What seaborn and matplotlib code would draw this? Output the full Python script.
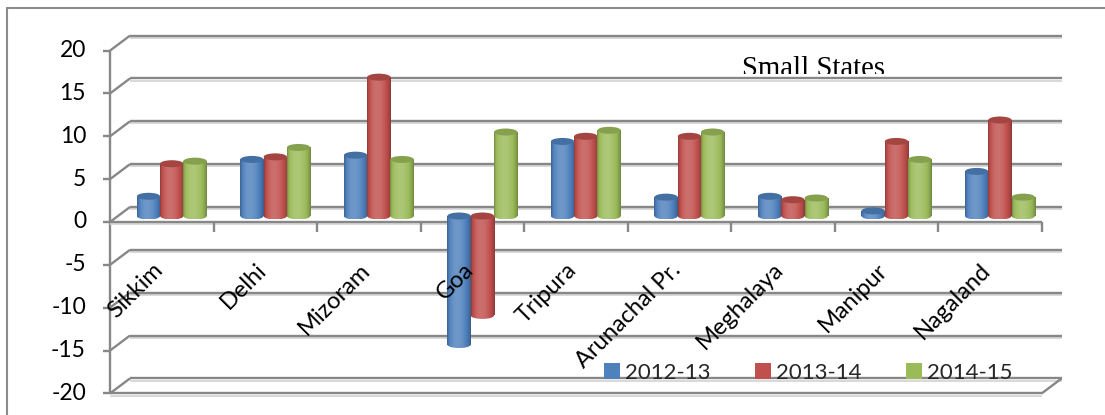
import numpy as np
import pandas as pd
import matplotlib
matplotlib.use("Agg")
import matplotlib.pyplot as plt
import seaborn as sns
from matplotlib.patches import Ellipse, Patch
from matplotlib.lines import Line2D
from matplotlib.transforms import offset_copy, Bbox
from matplotlib.colors import to_rgb

# ---- data -------------------------------------------------------------
states = ["Sikkim", "Delhi", "Mizoram", "Goa", "Tripura",
          "Arunachal Pr.", "Meghalaya", "Manipur", "Nagaland"]
years = ["2012-13", "2013-14", "2014-15"]
growth_2012_13 = [2.3, 6.6, 7.1, -15.0, 8.7, 2.2, 2.3, 0.6, 5.2]
growth_2013_14 = [6.1, 6.9, 16.2, -11.6, 9.3, 9.3, 1.9, 8.7, 11.2]
growth_2014_15 = [6.4, 8.0, 6.6, 9.8, 10.0, 9.8, 2.1, 6.6, 2.2]
y_ticks = [-20, -15, -10, -5, 0, 5, 10, 15, 20]
colors = ["#4F81BD", "#C0504D", "#9BBB59"]
title = "Small States"

df = pd.DataFrame({
    "state": states * len(years),
    "year": np.repeat(years, len(states)),
    "value": growth_2012_13 + growth_2013_14 + growth_2014_15,
})

# ---- figure -----------------------------------------------------------
sns.set_theme(style="white")
plt.rcParams["font.family"] = ["Lato", "DejaVu Sans"]

W, H, DPI = 1105, 415, 100
fig = plt.figure(figsize=(W / DPI, H / DPI), dpi=DPI)
fig.patch.set_facecolor("white")

# plane in which the cylinders stand (pixel box)
x_left, x_right = 120.0, 1051.7
y_top, y_bottom = 44.6, 387.4
ax = fig.add_axes([x_left / W, 1 - y_bottom / H,
                   (x_right - x_left) / W, (y_bottom - y_top) / H])

sns.barplot(data=df, x="state", y="value", hue="year", palette=colors,
            width=0.675, saturation=1, errorbar=None, legend=False, ax=ax)
n = len(states)
ax.set_xlim(-0.5, n - 0.5)
ax.set_ylim(y_ticks[0], y_ticks[-1])
ax.axis("off")

pxx = (x_right - x_left) / n                          # pixels per category
pxy = (y_bottom - y_top) / (y_ticks[-1] - y_ticks[0])  # pixels per unit

# front face of the 3-D box sits slightly lower-left, back wall upper-right
front = offset_copy(ax.transData, fig=fig, x=-10, y=-6, units="dots")
DX, DY = 20 / pxx, 15 / pxy   # depth of the box, in data units

GRID = "#878787"
SHADOW = "#d6d6d6"
LW = 1.7
TICK_FS = 16.5
CAT_FS = 17


def frame_line(xs, ys, z=0.5, color=GRID, lw=LW, shadow=True):
    if shadow:
        ax.plot(xs, [y - 2.2 / pxy for y in ys], transform=front,
                color=SHADOW, lw=1.3, clip_on=False, zorder=z - 0.01,
                solid_capstyle="butt")
    ax.plot(xs, ys, transform=front, color=color, lw=lw, clip_on=False,
            zorder=z, solid_capstyle="butt")


x0, x1 = -0.5, n - 0.5
# back wall gridlines, diagonals and value ticks
for v in y_ticks:
    frame_line([x0 + DX, x1 + DX], [v + DY, v + DY])
    frame_line([x0, x0 + DX], [v, v + DY], shadow=False)
    frame_line([x0 - 7 / pxx, x0], [v, v], shadow=False)
    ax.text(x0 - 24 / pxx, v, str(v), transform=front, ha="right",
            va="center", fontsize=TICK_FS, color="black", zorder=6)

# value axis
frame_line([x0, x0], [y_ticks[0], y_ticks[-1]], shadow=False)
# category axis at zero with tick marks between categories
frame_line([x0, x1], [0, 0], z=1)
for k in range(n):
    frame_line([k + 0.5, k + 0.5], [0, -10 / pxy], z=1, shadow=False)
# floor slab
frame_line([x0, x1], [y_ticks[0], y_ticks[0]], z=1)
frame_line([x1, x1 + DX], [y_ticks[0], y_ticks[0] + DY], z=1, shadow=False)

# category labels
for i, s in enumerate(states):
    ax.text(i + 5 / pxx, -37 / pxy, s, transform=front, rotation=45,
            ha="right", va="top", fontsize=CAT_FS, color="black", zorder=8)


# ---- cylinder shading -------------------------------------------------
def body_gradient(color, npts=96):
    base = np.array(to_rgb(color))
    t = np.linspace(0, 1, npts)
    s = 0.70 + 0.48 * np.sin(np.pi * t ** 0.8) ** 0.7
    rgb = np.empty((npts, 3))
    for j, sj in enumerate(s):
        if sj <= 1:
            rgb[j] = base * sj
        else:
            rgb[j] = base + (1 - base) * (sj - 1)
    return np.clip(rgb, 0, 1)[None, :, :]


palette_rgb = [np.array(to_rgb(c)) for c in colors]
cap_h = 7 / pxy
bars = list(ax.patches)
for idx, p in enumerate(bars):
    fc = np.array(p.get_facecolor()[:3])
    series = int(np.argmin([np.abs(fc - c).sum() for c in palette_rgb]))
    color = colors[series]
    bx, bw = p.get_x(), p.get_width()
    y_a, y_b = p.get_y(), p.get_y() + p.get_height()
    lo, hi = min(y_a, y_b), max(y_a, y_b)
    cx = bx + bw / 2
    z = 3 + series * 0.1 + (idx % n) * 0.001
    grad = body_gradient(color)
    p.set_linewidth(0)
    p.set_zorder(z)

    low_ell = Ellipse((cx, lo), bw, cap_h, transform=ax.transData)
    im = ax.imshow(grad, extent=[bx, bx + bw, lo - cap_h / 2, lo + cap_h / 2],
                   aspect="auto", interpolation="bilinear", zorder=z + 0.001)
    im.set_clip_path(low_ell)
    im = ax.imshow(grad, extent=[bx, bx + bw, lo, hi], aspect="auto",
                   interpolation="bilinear", zorder=z + 0.002)
    im.set_clip_path(p)
    cap = Ellipse((cx, hi), bw, cap_h, transform=ax.transData,
                  facecolor=np.array(to_rgb(color)) * 0.86,
                  edgecolor="none", zorder=z + 0.003)
    ax.add_patch(cap)

ax.set_xlim(-0.5, n - 0.5)
ax.set_ylim(y_ticks[0], y_ticks[-1])

# ---- legend -----------------------------------------------------------
handles = [Patch(facecolor=c, edgecolor="none") for c in colors]
fig.legend(handles, years, loc="center left",
           bbox_to_anchor=(604 / W, 1 - 373 / H), ncol=3, frameon=False,
           fontsize=16, handlelength=0.7, handleheight=0.7,
           handletextpad=0.25, columnspacing=2.0, borderpad=0,
           borderaxespad=0)

# ---- title ------------------------------------------------------------
t = fig.text(741.7 / W, 1 - 75.5 / H, title, family=["Liberation Serif"],
             fontsize=20.7, ha="left", va="baseline", color="black")
t.set_clip_box(Bbox.from_extents(0, H - 73.8, W, H))
t.set_clip_on(True)

# ---- chart border -----------------------------------------------------
fig.add_artist(Line2D([7 / W, 7 / W], [0, 1 - 8 / H],
                      transform=fig.transFigure, color="#8c8c8c", lw=1.5))
fig.add_artist(Line2D([7 / W, 1], [1 - 8 / H, 1 - 8 / H],
                      transform=fig.transFigure, color="#8c8c8c", lw=1.5))

fig.savefig("out.png", dpi=DPI)
